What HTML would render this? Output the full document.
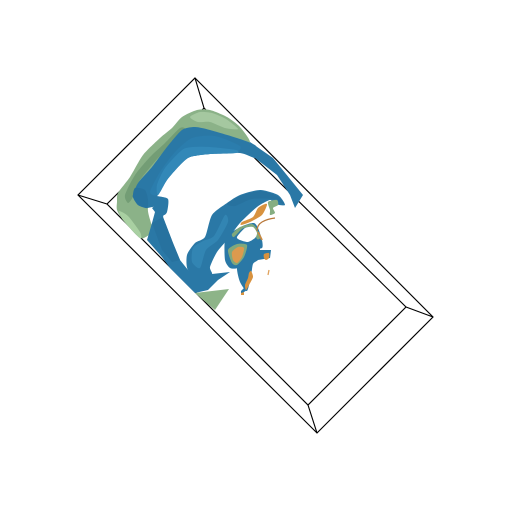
<!DOCTYPE html>
<html>
<head>
<meta charset="utf-8">
<style>html,body{margin:0;padding:0;background:#fff}svg{display:block}</style>
</head>
<body>
<svg width="512" height="512" viewBox="0 0 512 512" xmlns="http://www.w3.org/2000/svg">
  <g fill="none" stroke="#000" stroke-width="1.15">
    <path d="M195 78L433 317L317 433L78 195Z"/>
    <path d="M204 108L406 307L308 405L107 204Z"/>
    <path d="M195 78L204 108M78 195L107 204M433 317L406 307M317 433L308 405"/>
  </g>
  <g>
    <path class="s" fill="#8bb288" data-pts="123,220 117,210 117,202 118,193 130,177 143,155 160,138 172,128 182,117 197,110 210,110 227,117 240,127 250,142 240,150 190,150 160,190 148,208 152,227 150,234 140,238"/>
    <path class="s" fill="#a5c8a0" data-pts="190,117 200,112 212,113 226,119 238,129 225,128 210,122 198,122"/>
    <path class="s" fill="#739d75" data-pts="125,195 135,175 150,157 165,143 180,128 185,130 170,145 152,165 138,183 133,197 128,203"/>
    <path class="s" fill="#a9d0a2" data-pts="123,220 119,211 128,216 140,232 140,238"/>
    <path fill="#8db488" d="M195 293L229 289L215 310Z"/>
  </g>
  <g>
    <path class="s" fill="#2a78a6" data-pts="133,197 133,195 138,183 152,167 167,147 182,130 195,127 210,130 240,139 256,146 256,158 240,153 210,154 190,157 180,165 167,180 158,195 157,196 168,199 167,212 163,215 155,207 147,208 138,205"/>
    <path fill="#2a78a6" d="M250 142L273 158L303 195L295 208L290 195L277 175L255 158L248 155Z"/>
    <path class="s" fill="#2b7dad" data-pts="150,192 160,172 175,152 192,138 215,136 240,146 235,153 210,154 190,157 180,165 167,180 158,195"/>
    <path class="s" fill="#3288b8" data-pts="157,185 165,168 182,150 193,147 210,147 236,150 236,153 210,154 190,157 180,165 167,180 158,195"/>
    <path class="s" fill="#27729f" data-pts="133,197 135,188 145,190 148,200 147,208 138,205"/>
    <path fill="#2a78a6" d="M152 208L165 198L168 202L163 217L173 243L180 260L188 270L203 275L230 272L218 280L208 290L195 293L170 268L162 257L147 240L152 223L155 212Z"/>
    <path fill="#27729f" d="M152 223L163 217L173 243L180 260L172 262L162 250Z"/>
    <path class="s" fill="#2a78a6" data-pts="188,270 187,255 195,243 205,237 212,215 227,203 240,195 260,190 278,195 285,205 275,204 270,200 257,207 240,223 227,240 217,252 210,267 212,274 203,276"/>
    <path class="s" fill="#27729f" data-pts="227,204 240,196 260,191 277,196 284,204 272,199 252,199 235,206"/>
    <path class="s" fill="#3285b3" data-pts="192,262 193,248 203,241 214,236 225,215 228,222 218,240 206,250 200,268"/>
    <path class="s" fill="#2a78a6" data-pts="225,240 232,232 245,225 254,223 258,228 262,240 262,248 252,250 247,262 238,268 230,268 225,260"/>
    <path class="s" fill="#2a78a6" data-pts="250,240 261,240 260,250 264,252 258,260 253,264 251,276 247,291 240,282 237,268 242,256"/>
    <path fill="#2a78a6" d="M260 250L271 250L270 258L258 260Z"/>
    <path fill="#2a78a6" d="M245 287L247 290L241 294L241 291Z"/>
  </g>
  <g>
    <path class="s" fill="#7fa87d" data-pts="232,234 240,227 252,224 257,229 260,238 257,239 254,232 250,227 242,229 234,237"/>
    <path class="s" fill="#fff" data-pts="237,237 245,228 253,227 257,233 255,238 248,242 240,240"/>
    <path class="s" fill="#7fa87d" data-pts="228,250 237,244 247,245 244,257 237,265 232,263"/>
    <path class="s" fill="#dc9a4e" data-pts="232,252 238,247 244,248 242,257 237,263 233,260"/>
    <path class="s" fill="#86ae82" data-pts="268,202 277,200 278,205 273,208 275,213 270,215 270,210"/>
    <path class="s" fill="#d8923f" data-pts="241,225 250,222 262,215 267,205 265,204 258,208 253,217 242,222"/>
    <path fill="none" stroke="#b9783a" stroke-width="1.3" d="M275 218Q267 219 262 222Q257 225 257 231"/>
    <path fill="none" stroke="#c98a42" stroke-width="1.8" d="M258 232L262 240"/>
    <path class="s" fill="#d8923f" data-pts="251,271 253,277 249,285 246,290 245,285 248,278 249,273"/>
    <path class="s" fill="#d8923f" data-pts="264,254 269,253 269,258 266,260 264,258"/>
    <path fill="none" stroke="#e0a35e" stroke-width="1.3" d="M269 270L268 275"/>
    <path fill="#d8923f" d="M241 293L244 292L244 295L241 295Z"/>
  </g>
  <script>
    var smoothShapes = document.querySelectorAll('.s');
    smoothShapes.forEach(function (el) {
      var p = el.getAttribute('data-pts').split(' ').map(function (s) { return s.split(',').map(Number); });
      var n = p.length, t = 0.12;
      var d = 'M' + p[0][0] + ' ' + p[0][1];
      for (var i = 0; i < n; i++) {
        var a = p[(i - 1 + n) % n], b = p[i], c = p[(i + 1) % n], e = p[(i + 2) % n];
        d += 'C' + (b[0] + (c[0] - a[0]) * t) + ' ' + (b[1] + (c[1] - a[1]) * t) + ' ' +
             (c[0] - (e[0] - b[0]) * t) + ' ' + (c[1] - (e[1] - b[1]) * t) + ' ' + c[0] + ' ' + c[1];
      }
      el.setAttribute('d', d + 'Z');
    });
  </script>
</svg>
</body>
</html>
